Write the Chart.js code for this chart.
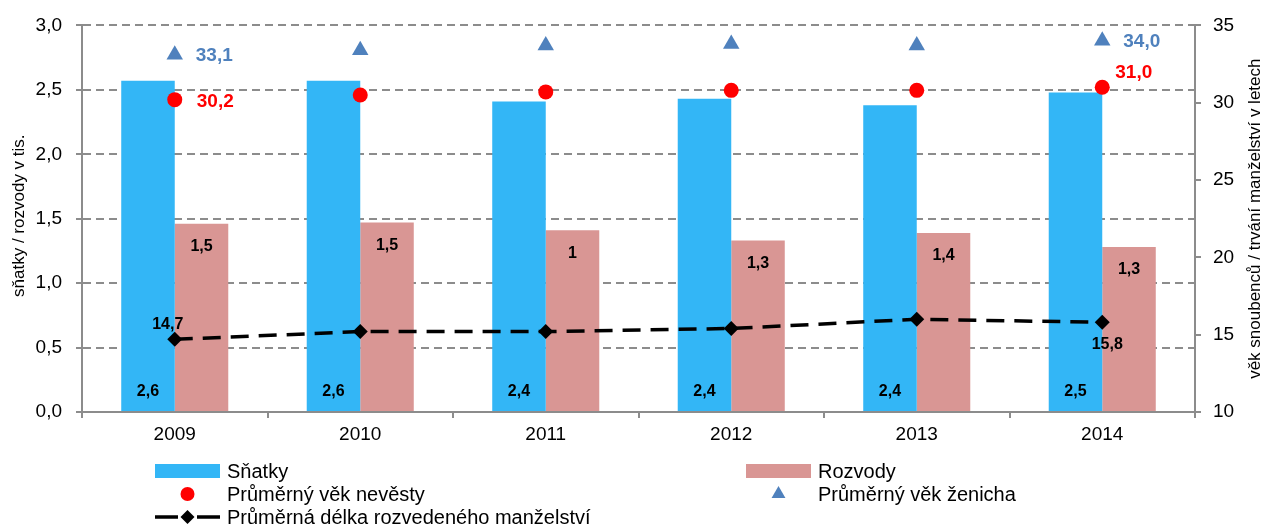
<!DOCTYPE html>
<html>
<head>
<meta charset="utf-8">
<script src="https://cdn.jsdelivr.net/npm/chart.js@4"></script>
<style>
  html, body { margin: 0; padding: 0; background: #fff; }
  #wrap { width: 1268px; height: 526px; position: relative; }
</style>
</head>
<body>
<div id="wrap"><canvas id="chart"></canvas></div>
<script>
// data
const years = ["2009", "2010", "2011", "2012", "2013", "2014"];
const snatky = [2.57, 2.57, 2.41, 2.43, 2.38, 2.48];
const rozvody = [1.46, 1.47, 1.41, 1.33, 1.39, 1.28];
const vekNevesty = [30.2, 30.5, 30.7, 30.8, 30.8, 31.0];
const vekZenicha = [33.1, 33.4, 33.7, 33.8, 33.7, 34.0];
const delkaManzelstvi = [14.7, 15.2, 15.2, 15.4, 16.0, 15.8];

// labels as printed on the chart
const snatkyLabels = ["2,6", "2,6", "2,4", "2,4", "2,4", "2,5"];
const rozvodyLabels = ["1,5", "1,5", "1", "1,3", "1,4", "1,3"];
const nevestyLabels = ["30,2", "", "", "", "", "31,0"];
const zenichaLabels = ["33,1", "", "", "", "", "34,0"];
const delkaLabels = ["14,7", "", "", "", "", "15,8"];

const leftTicks = [0, 0.5, 1, 1.5, 2, 2.5, 3];
const rightTicks = [10, 15, 20, 25, 30, 35];

const FONT = "'Liberation Sans', Arial, sans-serif";
const GRID = "#8c8c8c";
const BLUE = "#33b6f6";
const PINK = "#d99694";
const RED = "#ff0000";
const STEEL = "#4f81bd";

function comma(v, d) {
  return v.toFixed(d).replace(".", ",");
}

// data labels, drawn at the library's element positions
const valueLabels = {
  id: "valueLabels",
  afterDatasetsDraw(chart) {
    const ctx = chart.ctx;
    const y0 = chart.scales.y.getPixelForValue(0);
    ctx.save();
    ctx.textBaseline = "middle";

    chart.getDatasetMeta(0).data.forEach((el, i) => {
      ctx.font = "bold 16px " + FONT;
      ctx.fillStyle = "#000";
      ctx.textAlign = "center";
      ctx.fillText(snatkyLabels[i], el.x, y0 - 20);
    });
    chart.getDatasetMeta(1).data.forEach((el, i) => {
      ctx.font = "bold 16px " + FONT;
      ctx.fillStyle = "#000";
      ctx.textAlign = "center";
      ctx.fillText(rozvodyLabels[i], el.x, el.y + 23);
    });
    chart.getDatasetMeta(2).data.forEach((el, i) => {
      if (!nevestyLabels[i]) return;
      ctx.font = "bold 19px " + FONT;
      ctx.fillStyle = RED;
      ctx.textAlign = "left";
      const last = i === years.length - 1;
      ctx.fillText(nevestyLabels[i], el.x + (last ? 13 : 22), el.y + (last ? -14 : 2));
    });
    chart.getDatasetMeta(3).data.forEach((el, i) => {
      if (!zenichaLabels[i]) return;
      ctx.font = "bold 19px " + FONT;
      ctx.fillStyle = STEEL;
      ctx.textAlign = "left";
      ctx.fillText(zenichaLabels[i], el.x + 21, el.y + 1);
    });
    chart.getDatasetMeta(4).data.forEach((el, i) => {
      if (!delkaLabels[i]) return;
      ctx.font = "bold 16px " + FONT;
      ctx.fillStyle = "#000";
      ctx.textAlign = "center";
      if (i === 0) ctx.fillText(delkaLabels[i], el.x - 7, el.y - 15);
      else ctx.fillText(delkaLabels[i], el.x + 5, el.y + 22);
    });
    ctx.restore();
  }
};

// axis titles + legend in the Excel layout
const decorations = {
  id: "decorations",
  afterDraw(chart) {
    const ctx = chart.ctx;
    const area = chart.chartArea;
    const midY = (area.top + area.bottom) / 2;
    ctx.save();
    ctx.fillStyle = "#000";
    ctx.font = "17px " + FONT;
    ctx.textAlign = "center";
    ctx.textBaseline = "middle";

    ctx.save();
    ctx.translate(19, midY - 3);
    ctx.rotate(-Math.PI / 2);
    ctx.fillText("sňatky / rozvody v tis.", 0, 0);
    ctx.restore();

    ctx.save();
    ctx.translate(chart.width - 13, midY);
    ctx.rotate(-Math.PI / 2);
    ctx.fillText("věk snoubenců / trvání manželství v letech", 0, 0);
    ctx.restore();

    // legend
    const ds = chart.data.datasets;
    const col1 = area.left + 73;
    const col2 = area.left + 664;
    const rows = [471, 494, 517];
    const sw = 65;
    ctx.font = "20px " + FONT;
    ctx.textAlign = "left";

    function text(t, x, y) {
      ctx.fillStyle = "#000";
      ctx.fillText(t, x + sw + 7, y + 1);
    }

    ctx.fillStyle = ds[0].backgroundColor;
    ctx.fillRect(col1, rows[0] - 7, sw, 14);
    text(ds[0].label, col1, rows[0]);

    ctx.fillStyle = ds[1].backgroundColor;
    ctx.fillRect(col2, rows[0] - 7, sw, 14);
    text(ds[1].label, col2, rows[0]);

    ctx.fillStyle = ds[2].pointBackgroundColor;
    Chart.helpers.drawPoint(ctx, { pointStyle: "circle", radius: 7, rotation: 0, borderWidth: 0 }, col1 + sw / 2, rows[1]);
    text(ds[2].label, col1, rows[1]);

    ctx.fillStyle = ds[3].pointBackgroundColor;
    Chart.helpers.drawPoint(ctx, { pointStyle: "triangle", radius: 8, rotation: 0, borderWidth: 0 }, col2 + sw / 2, rows[1]);
    text(ds[3].label, col2, rows[1]);

    ctx.strokeStyle = ds[4].borderColor;
    ctx.lineWidth = 3.5;
    ctx.beginPath();
    ctx.moveTo(col1, rows[2]);
    ctx.lineTo(col1 + 23, rows[2]);
    ctx.moveTo(col1 + 42, rows[2]);
    ctx.lineTo(col1 + sw, rows[2]);
    ctx.stroke();
    ctx.fillStyle = ds[4].pointBackgroundColor;
    Chart.helpers.drawPoint(ctx, { pointStyle: "rectRot", radius: 7, rotation: 0, borderWidth: 0 }, col1 + sw / 2, rows[2]);
    text(ds[4].label, col1, rows[2]);

    ctx.restore();
  }
};

const ctx = document.getElementById("chart").getContext("2d");

new Chart(ctx, {
  type: "bar",
  data: {
    labels: years,
    datasets: [
      {
        label: "Sňatky",
        data: snatky,
        backgroundColor: BLUE,
        borderWidth: 0,
        yAxisID: "y",
        order: 2
      },
      {
        label: "Rozvody",
        data: rozvody,
        backgroundColor: PINK,
        borderWidth: 0,
        yAxisID: "y",
        order: 2
      },
      {
        type: "line",
        label: "Průměrný věk nevěsty",
        data: vekNevesty,
        showLine: false,
        pointStyle: "circle",
        pointRadius: 7.5,
        pointBackgroundColor: RED,
        pointBorderWidth: 0,
        borderColor: RED,
        yAxisID: "y1",
        order: 1
      },
      {
        type: "line",
        label: "Průměrný věk ženicha",
        data: vekZenicha,
        showLine: false,
        pointStyle: "triangle",
        pointRadius: 9.5,
        pointBackgroundColor: STEEL,
        pointBorderWidth: 0,
        borderColor: STEEL,
        yAxisID: "y1",
        order: 1
      },
      {
        type: "line",
        label: "Průměrná délka rozvedeného manželství",
        data: delkaManzelstvi,
        borderColor: "#000",
        borderWidth: 3.5,
        borderDash: [18, 10],
        pointStyle: "rectRot",
        pointRadius: 7.5,
        pointBackgroundColor: "#000",
        pointBorderWidth: 0,
        tension: 0,
        yAxisID: "y1",
        order: 0
      }
    ]
  },
  options: {
    responsive: true,
    maintainAspectRatio: false,
    animation: false,
    layout: { padding: { top: 23, bottom: 84, left: 0, right: 0 } },
    datasets: {
      bar: { categoryPercentage: 0.577, barPercentage: 1 }
    },
    plugins: {
      legend: { display: false },
      tooltip: { enabled: false }
    },
    scales: {
      x: {
        offset: true,
        grid: {
          display: true,
          offset: true,
          drawOnChartArea: false,
          drawTicks: true,
          tickLength: 6,
          color: GRID,
          lineWidth: 2
        },
        border: { display: true, color: GRID, width: 2 },
        ticks: {
          color: "#000",
          font: { family: FONT, size: 19 },
          padding: 5
        },
        afterFit(scale) { scale.height = 30; }
      },
      y: {
        position: "left",
        min: 0,
        max: 3,
        afterBuildTicks(scale) { scale.ticks = leftTicks.map(v => ({ value: v })); },
        grid: {
          color: GRID,
          lineWidth: 2,
          tickLength: 6,
          tickBorderDash: []
        },
        border: { display: true, color: GRID, width: 2, dash: [8, 5] },
        ticks: {
          color: "#000",
          font: { family: FONT, size: 19 },
          padding: 14,
          callback: v => comma(v, 1)
        },
        afterFit(scale) { scale.width = 82; }
      },
      y1: {
        position: "right",
        min: 10,
        max: 35,
        afterBuildTicks(scale) { scale.ticks = rightTicks.map(v => ({ value: v })); },
        grid: {
          drawOnChartArea: false,
          color: GRID,
          lineWidth: 2,
          tickLength: 6
        },
        border: { display: true, color: GRID, width: 2 },
        ticks: {
          color: "#000",
          font: { family: FONT, size: 19 },
          padding: 12,
          callback: v => String(v)
        },
        afterFit(scale) { scale.width = 73; }
      }
    }
  },
  plugins: [valueLabels, decorations]
});
</script>
</body>
</html>
